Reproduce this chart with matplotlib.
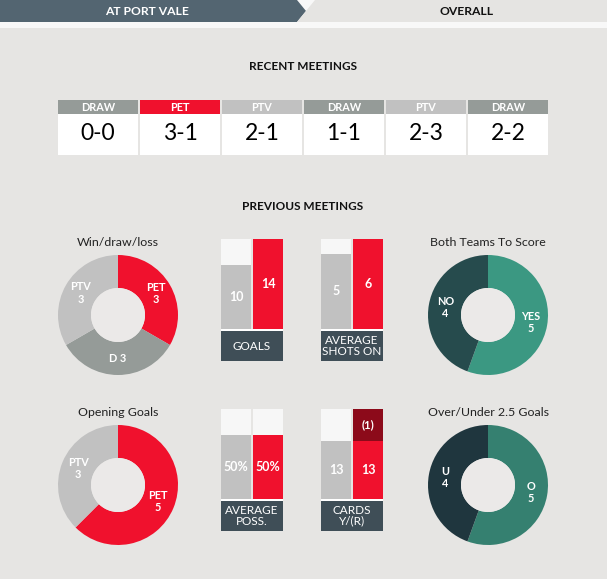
import matplotlib
matplotlib.use("Agg")
import matplotlib.pyplot as plt
from matplotlib.patches import Rectangle, Polygon, Circle

W, H = 607, 579
BG = '#e6e5e3'
RED = '#f0112d'
LGREY = '#c1c1c1'
DGREY = '#959b98'
DRED = '#8c0a1a'
BOX = '#3f4e57'
HOLE = '#ebe9e8'
plt.rcParams['font.family'] = ['Lato', 'DejaVu Sans']

# recent meetings
results = ["DRAW", "PET", "PTV", "DRAW", "PTV", "DRAW"]
scores = ["0-0", "3-1", "2-1", "1-1", "2-3", "2-2"]
result_colors = {"DRAW": DGREY, "PET": RED, "PTV": LGREY}

# donuts
wdl_labels = ["PET\n3", "D 3", "PTV\n3"]
wdl_values = [3, 3, 3]
btts_labels = ["YES\n5", "NO\n4"]
btts_values = [5, 4]
open_labels = ["PET\n5", "PTV\n3"]
open_values = [5, 3]
ou_labels = ["O\n5", "U\n4"]
ou_values = [5, 4]

# bar panels (PTV, PET)
goals = [10, 14]
shots_on = [5, 6]
possession = [50, 50]
yellow_cards = [13, 13]
red_cards = [0, 1]


def px_rect(x0, y0, x1, y1):
    return [x0 / W, 1 - y1 / H, (x1 - x0) / W, (y1 - y0) / H]


fig = plt.figure(figsize=(W / 100, H / 100), dpi=100)
fig.patch.set_facecolor(BG)
ax = fig.add_axes([0, 0, 1, 1])
ax.set_xlim(0, W)
ax.set_ylim(H, 0)
ax.axis('off')

# tabs
ax.add_patch(Rectangle((0, 0), W, 28, color='#f8f8f8', lw=0))
ax.add_patch(Polygon([(0, 0), (297, 0), (306, 11), (297, 22), (0, 22)], color='#536571', lw=0))
ax.add_patch(Polygon([(315, 0), (W, 0), (W, 22), (297, 22), (306, 11)], color='#e5e4e2', lw=0))
ax.text(147, 11.5, "AT PORT VALE", color='white', fontsize=8.7, fontweight='bold', ha='center', va='center')
ax.text(467, 11.5, "OVERALL", color='#111111', fontsize=8.7, fontweight='bold', ha='center', va='center')

ax.text(303, 66, "RECENT MEETINGS", fontsize=8.5, fontweight='bold', ha='center', va='center', color='#111111')
for i, (res, sc) in enumerate(zip(results, scores)):
    x0 = 58 + i * 82
    ax.add_patch(Rectangle((x0, 100), 80, 14, color=result_colors[res], lw=0))
    ax.add_patch(Rectangle((x0, 114), 80, 41, color='white', lw=0))
    ax.text(x0 + 40, 107.5, res, color='white', fontsize=7.8, fontweight='bold', ha='center', va='center')
    ax.text(x0 + 40, 134, sc, color='black', fontsize=16.5, ha='center', va='center')

ax.text(303, 207, "PREVIOUS MEETINGS", fontsize=8.5, fontweight='bold', ha='center', va='center', color='#111111')


def donut(cx, cy, values, labels, colors, title):
    a = fig.add_axes(px_rect(cx - 60, cy - 60, cx + 60, cy + 60))
    wedges, texts = a.pie(values, labels=labels, colors=colors, startangle=90, counterclock=False,
                          labeldistance=0.72, wedgeprops=dict(width=0.55, linewidth=0),
                          textprops=dict(color='white', fontsize=7.8, fontweight='bold', linespacing=1.2))
    for t in texts:
        t.set_ha('center')
        t.set_va('center')
    a.add_patch(Circle((0, 0), 0.45, color=HOLE, lw=0))
    a.set_xlim(-1, 1)
    a.set_ylim(-1, 1)
    ax.text(cx, cy - 73, title, fontsize=8.9, ha='center', va='center', color='#222222')


donut(118, 315, wdl_values, wdl_labels, [RED, DGREY, LGREY], "Win/draw/loss")
donut(488, 315, btts_values, btts_labels, ['#3b9882', '#264b4d'], "Both Teams To Score")
donut(118, 485, open_values, open_labels, [RED, LGREY], "Opening Goals")
donut(488, 485, ou_values, ou_labels, ['#358070', '#1f363e'], "Over/Under 2.5 Goals")


def bar_panel(x0, y0, vals, top, label, stack=None):
    a = fig.add_axes(px_rect(x0, y0, x0 + 62, y0 + 89.7))
    w = 30 / 32
    pos = [0, 1]
    a.bar(pos, [top, top], width=w, color='#f7f7f7', lw=0)
    a.bar(pos, vals, width=w, color=[LGREY, RED], lw=0)
    a.set_xlim(-w / 2, 1 + w / 2)
    a.set_ylim(0, top)
    a.axis('off')
    for p, v in zip(pos, vals):
        txt = f"{v}%" if label.startswith("AVERAGE\nPOSS") else str(v)
        a.text(p, v / 2, txt, color='white', fontsize=9, fontweight='bold', ha='center', va='center')
    if stack is not None:
        for p, v, s in zip(pos, vals, stack):
            if s:
                a.bar(p, top - v, bottom=v, width=w, color=DRED, lw=0)
                a.text(p, (v + top) / 2, f"({s})", color='white', fontsize=8, fontweight='bold',
                       ha='center', va='center')
    ax.add_patch(Rectangle((x0, y0 + 89.7), 62, 2.3, color='white', lw=0))
    ax.add_patch(Rectangle((x0, y0 + 92), 62, 30, color=BOX, lw=0))
    ax.text(x0 + 31, y0 + 107, label, color='white', fontsize=8.5, ha='center', va='center', linespacing=0.95)


bar_panel(221, 239, goals, 14, "GOALS")
bar_panel(321, 239, shots_on, 6, "AVERAGE\nSHOTS ON")
bar_panel(221, 409, possession, 70, "AVERAGE\nPOSS.")
bar_panel(321, 409, yellow_cards, 20.2, "CARDS\nY/(R)", stack=red_cards)

fig.savefig('out.png', dpi=100, facecolor=BG)
